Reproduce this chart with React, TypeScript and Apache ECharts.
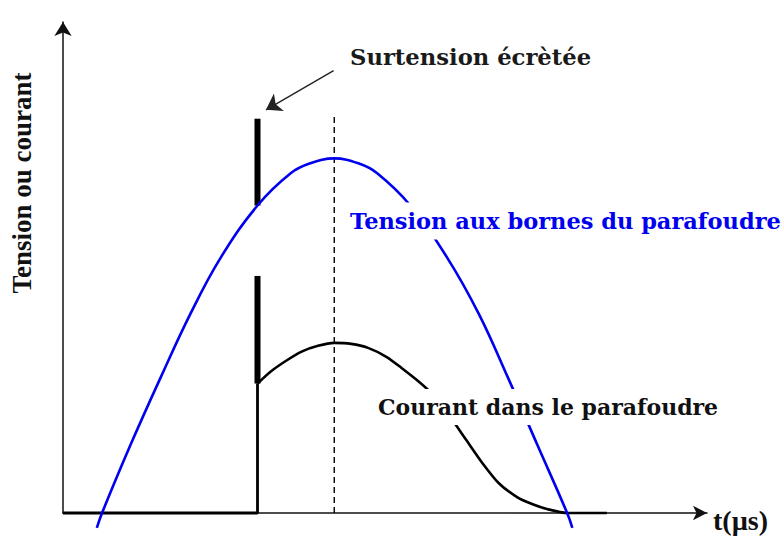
import React, { useEffect, useRef } from "react";
import * as echarts from "echarts";

// time axis (µs, arbitrary units) and amplitude (arbitrary units)
const voltageT = [5.2, 6.0, 10.3, 15.0, 19.6, 24.2, 29.9, 35.0, 38.0, 41.7, 45.4, 48.3, 53.4, 59.1, 63.9, 68.4, 73.0, 77.5, 78.3];
const voltageV = [-3.0, 0, 13.5, 27.3, 40.2, 51.4, 62.0, 68.5, 70.5, 71.5, 70.5, 68.5, 62.0, 51.4, 40.2, 27.3, 13.5, 0, -3.0];

const currentT = [29.9, 31.9, 34.3, 36.6, 39.2, 41.7, 44.3, 46.9, 49.7, 52.0, 54.3, 56.2, 58.2, 60.0, 62.0, 64.4, 67.0, 69.8, 72.1, 74.4, 77.5, 83.6];
const currentV = [26.1, 28.5, 30.7, 32.5, 33.7, 34.3, 34.1, 33.3, 31.5, 29.3, 26.9, 24.7, 21.7, 18.5, 14.7, 10.2, 6.0, 3.2, 1.8, 0.8, 0, 0];

const baseT = [0, 29.9, 29.9];
const baseV = [0, 0, 26.1];

const spikeT = 29.9;
const upperSpikeV = [62.0, 79.5];
const lowerSpikeV = [26.1, 47.8];

const peakT = 41.7;
const dashV = [0, 80.3];

const arrowFrom = [41.6, 89.2];
const arrowTo = [31.2, 81.3];

const xMax = 99;
const yMax = 99;

const texts = {
  surtension: "Surtension écrètée",
  tension: "Tension aux bornes du parafoudre",
  courant: "Courant dans le parafoudre",
  yLabel: "Tension ou courant",
  xLabel: "t(µs)",
};

const zip = (a: number[], b: number[]) => a.map((v, i) => [v, b[i]]);

export default function App() {
  const ref = useRef<HTMLDivElement>(null);
  useEffect(() => {
    if (!ref.current) return;
    const chart = echarts.init(ref.current, null, { renderer: "svg" });
    const serif = "DejaVu Serif";
    const times = "Liberation Serif";
    chart.setOption({
      animation: false,
      backgroundColor: "#ffffff",
      grid: { left: 63, right: 76, top: 22, bottom: 25 },
      xAxis: {
        type: "value",
        min: 0,
        max: xMax,
        axisLine: {
          show: true,
          onZero: false,
          symbol: ["none", "arrow"],
          symbolSize: [11, 14],
          lineStyle: { color: "#111", width: 1.5 },
        },
        axisTick: { show: false },
        axisLabel: { show: false },
        splitLine: { show: false },
      },
      yAxis: {
        type: "value",
        min: 0,
        max: yMax,
        axisLine: {
          show: true,
          onZero: false,
          symbol: ["none", "arrow"],
          symbolSize: [13, 14],
          lineStyle: { color: "#111", width: 1.5 },
        },
        axisTick: { show: false },
        axisLabel: { show: false },
        splitLine: { show: false },
      },
      series: [
        {
          type: "line",
          data: zip(baseT, baseV),
          symbol: "none",
          clip: false,
          z: 3,
          lineStyle: { color: "#000", width: 2.8 },
        },
        {
          type: "line",
          data: [[spikeT, upperSpikeV[0]], [spikeT, upperSpikeV[1]]],
          symbol: "none",
          clip: false,
          z: 3,
          lineStyle: { color: "#000", width: 6, cap: "butt" },
        },
        {
          type: "line",
          data: [[spikeT, lowerSpikeV[0]], [spikeT, lowerSpikeV[1]]],
          symbol: "none",
          clip: false,
          z: 3,
          lineStyle: { color: "#000", width: 6, cap: "butt" },
        },
        {
          type: "line",
          data: zip(currentT, currentV),
          symbol: "none",
          smooth: 0.25,
          clip: false,
          z: 3,
          lineStyle: { color: "#000", width: 2.6 },
        },
        {
          type: "line",
          data: [[peakT, dashV[0]], [peakT, dashV[1]]],
          symbol: "none",
          clip: false,
          z: 2,
          lineStyle: { color: "#000", width: 1.4, type: [6, 4] },
        },
        {
          type: "line",
          data: zip(voltageT, voltageV),
          symbol: "none",
          smooth: 0.4,
          clip: false,
          z: 4,
          lineStyle: { color: "#0000ee", width: 2.6 },
        },
        {
          type: "lines",
          coordinateSystem: "cartesian2d",
          symbol: ["none", "arrow"],
          symbolSize: 15,
          z: 4,
          lineStyle: { color: "#222", width: 1.4, opacity: 1 },
          data: [{ coords: [arrowFrom, arrowTo] }],
        },
      ],
      graphic: [
        {
          type: "text",
          z: 100,
          x: 350,
          y: 57,
          style: {
            text: texts.surtension,
            font: `bold 22.7px "${serif}"`,
            fill: "#1a1a1a",
            align: "left",
            verticalAlign: "middle",
          },
        },
        {
          type: "text",
          z: 100,
          x: 346,
          y: 221,
          style: {
            text: texts.tension,
            font: `bold 22.5px "${serif}"`,
            fill: "#0000ee",
            align: "left",
            verticalAlign: "middle",
            backgroundColor: "#ffffff",
            padding: [7, 4, 7, 4],
          },
        },
        {
          type: "text",
          z: 100,
          x: 374,
          y: 407,
          style: {
            text: texts.courant,
            font: `bold 22px "${serif}"`,
            fill: "#111",
            align: "left",
            verticalAlign: "middle",
            backgroundColor: "#ffffff",
            padding: [7, 4, 7, 4],
          },
        },
        {
          type: "text",
          z: 100,
          x: 22,
          y: 183,
          rotation: Math.PI / 2,
          style: {
            text: texts.yLabel,
            font: `bold 27px "${times}"`,
            fill: "#111",
            align: "center",
            verticalAlign: "middle",
          },
        },
        {
          type: "text",
          z: 100,
          x: 713,
          y: 520,
          style: {
            text: texts.xLabel,
            font: `bold 28px "${times}"`,
            fill: "#111",
            align: "left",
            verticalAlign: "middle",
          },
        },
      ],
    });
    return () => chart.dispose();
  }, []);
  return (
    <div
      ref={ref}
      style={{ position: "fixed", left: 0, top: 0, width: 783, height: 538 }}
    />
  );
}
